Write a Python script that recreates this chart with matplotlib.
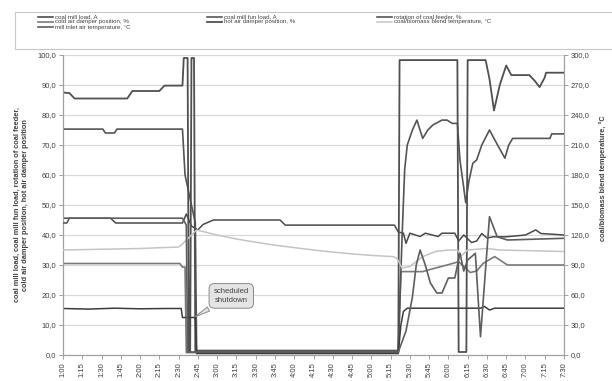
import matplotlib
matplotlib.use("Agg")
import matplotlib.pyplot as plt
from matplotlib.lines import Line2D
from matplotlib.patches import Rectangle

plt.rcParams['font.family'] = ['Liberation Sans', 'DejaVu Sans']

# ---------------- data ----------------
tick_labels = ["1:00", "1:15", "1:30", "1:45", "2:00", "2:15", "2:30", "2:45", "3:00",
               "3:15", "3:30", "3:45", "4:00", "4:15", "4:30", "4:45", "5:00", "5:15",
               "5:30", "5:45", "6:00", "6:15", "6:30", "6:45", "7:00", "7:15", "7:30"]

# hot air damper position, %
hot_t = ["1:00", "1:05", "1:09", "1:50", "1:54", "2:15", "2:19", "2:33", "2:34", "2:37", "2:38",
         "2:39", "2:40", "2:42", "2:43", "5:21", "5:22", "6:07", "6:08", "6:14", "6:15", "6:29",
         "6:32", "6:35.5", "6:40", "6:45", "6:49", "7:03", "7:07", "7:11", "7:15", "7:16", "7:30"]
hot_v = [87.5, 87.3, 85.5, 85.5, 88.0, 88.0, 89.8, 89.8, 99.0, 99.0, 1.0,
         1.0, 99.0, 99.0, 1.0, 1.0, 98.3, 98.3, 1.0, 1.0, 98.3, 98.3,
         92.0, 81.5, 90.0, 96.5, 93.3, 93.3, 91.5, 89.3, 92.5, 94.1, 94.1]

# rotation of coal feeder, %
rot_t = ["1:00", "1:31", "1:33", "1:40", "1:42", "2:33", "2:35", "2:43", "2:44", "5:21", "5:24",
         "5:26", "5:28", "5:32", "5:35.5", "5:40", "5:44", "5:48", "5:55", "5:59", "6:03", "6:07",
         "6:09", "6:13.5", "6:16", "6:19", "6:22", "6:26", "6:32", "6:37", "6:44", "6:47", "6:50",
         "7:19", "7:20.5", "7:30"]
rot_v = [75.3, 75.3, 74.0, 74.0, 75.3, 75.3, 60.0, 44.0, 1.5, 1.5, 40.0,
         62.0, 70.0, 75.0, 78.3, 72.2, 75.0, 76.7, 78.3, 78.3, 77.2, 77.2,
         65.0, 50.8, 58.0, 63.9, 65.0, 70.0, 75.0, 71.0, 65.6, 70.0, 72.2,
         72.2, 73.7, 73.7]

# coal mill fun load, A
fun_t = ["1:00", "1:37", "1:41", "2:33", "2:36", "2:40", "2:45", "2:49", "2:57", "3:49", "3:53",
         "5:18", "5:21", "5:25", "5:27", "5:30", "5:38", "5:42", "5:52", "5:55", "6:05", "6:08",
         "6:12", "6:18", "6:22", "6:26", "6:30", "6:35", "6:45", "7:00", "7:08", "7:12", "7:30"]
fun_v = [45.6, 45.6, 44.0, 44.0, 47.0, 43.0, 41.7, 43.5, 45.0, 45.0, 43.3,
         43.3, 41.0, 40.6, 37.2, 40.6, 39.5, 40.6, 39.5, 40.6, 40.6, 38.0,
         40.0, 37.5, 38.0, 40.5, 39.0, 39.4, 39.4, 40.0, 41.7, 40.5, 40.0]

# mill inlet air temperature, °C (right axis)
inlet_t = ["1:00", "1:03", "1:05", "2:33", "2:36", "2:37", "5:21", "5:27", "5:32", "5:35",
           "5:38", "5:42", "5:46", "5:51", "5:55", "6:00", "6:05", "6:09", "6:12", "6:15",
           "6:21", "6:25", "6:32", "6:38", "6:46", "7:30"]
inlet_v = [132.0, 132.0, 136.8, 136.8, 130.0, 3.0, 3.0, 24.0, 58.0, 90.0,
           105.0, 90.0, 72.0, 62.0, 62.0, 77.0, 77.0, 101.7, 84.0, 95.0,
           101.7, 18.3, 138.3, 118.2, 115.0, 116.7]

# cold air damper position, %
cold_t = ["1:00", "2:31", "2:33", "2:35", "2:36", "5:21", "5:23", "5:40", "5:50", "5:59",
          "6:08", "6:12", "6:17", "6:22", "6:27", "6:36", "6:46", "7:30"]
cold_v = [30.5, 30.5, 29.3, 29.3, 0.8, 0.8, 27.8, 27.8, 29.0, 30.0,
          31.1, 29.5, 27.5, 28.0, 30.5, 32.8, 30.0, 30.0]

# coal/biomass blend temperature, °C (right axis)
blend_t = ["1:00", "2:00", "2:30", "2:33", "2:40", "2:44", "3:00", "3:15", "3:30", "3:45",
           "4:00", "4:15", "4:30", "4:45", "5:00", "5:17", "5:20", "5:24", "5:30", "5:40",
           "5:50", "6:00", "6:07", "6:10", "6:15", "6:30", "6:40", "7:30"]
blend_v = [105.0, 106.5, 108.0, 111.0, 120.0, 125.0, 120.0, 116.0, 112.8, 109.8,
           107.4, 105.0, 102.9, 101.1, 99.6, 98.4, 96.6, 87.0, 88.5, 98.4,
           103.5, 105.0, 105.0, 99.0, 105.0, 106.5, 105.0, 103.5]

# coal mill load, A
load_t = ["1:00", "1:20", "1:40", "2:00", "2:20", "2:32", "2:33", "2:43", "2:44", "5:21",
          "5:23", "5:25", "5:28", "6:25", "6:28", "6:32", "6:36", "7:30"]
load_v = [15.5, 15.3, 15.6, 15.4, 15.5, 15.5, 12.5, 12.5, 0.5, 0.5,
          10.0, 14.5, 15.6, 15.6, 16.2, 15.0, 15.6, 15.6]

legend_labels = [
    ["coal mill load, A", "cold air damper position, %", "mill inlet air temperature, °C"],
    ["coal mill fun load, A", "hot air damper position, %"],
    ["rotation of coal feeder, %", "coal/biomass blend temperature, °C"],
]
legend_keys = [["load", "cold", "inlet"], ["fun", "hot"], ["rot", "blend"]]

annot_text = "scheduled\nshutdown"
ylabel_left = "coal mill load, coal mill fun load, rotation of coal feeder,\ncold air damper position, hot air damper position"
ylabel_right = "coal/biomass blend temperature, °C"


def tm(s):
    h, m = s.split(":")
    return int(h) * 60 + float(m)


def fmt(v):
    return f"{v:.1f}".replace(".", ",")


W, H = 612, 381

# ---------------- figure ----------------
fig = plt.figure(figsize=(W / 100, H / 100), dpi=100)
ax = fig.add_axes([63 / W, 1 - 355 / H, 501 / W, 300 / H])
ax2 = ax.twinx()

styles = {
    "load": dict(color="#3c3c3c", lw=1.1),
    "fun": dict(color="#4a4a4a", lw=1.1),
    "rot": dict(color="#555555", lw=1.2),
    "cold": dict(color="#7a7a7a", lw=1.2),
    "hot": dict(color="#505050", lw=1.3),
    "blend": dict(color="#c4c4c4", lw=1.1),
    "inlet": dict(color="#5e5e5e", lw=1.2),
}

ax.plot([tm(t) for t in cold_t], cold_v, **styles["cold"], zorder=3)
ax.plot([tm(t) for t in fun_t], fun_v, **styles["fun"], zorder=3)
ax.plot([tm(t) for t in rot_t], rot_v, **styles["rot"], zorder=3)
ax.plot([tm(t) for t in hot_t], hot_v, **styles["hot"], zorder=3)
ax.plot([tm(t) for t in load_t], load_v, **styles["load"], zorder=3)
ax2.plot([tm(t) for t in blend_t], blend_v, **styles["blend"], zorder=3)
ax2.plot([tm(t) for t in inlet_t], inlet_v, **styles["inlet"], zorder=3)

xmin, xmax = tm("1:00"), tm("7:30")
ax.set_xlim(xmin, xmax)
ax.set_ylim(0, 100)
ax2.set_ylim(0, 300)

ax.set_yticks(range(0, 101, 10))
ax.set_yticklabels([fmt(v) for v in range(0, 101, 10)])
ax2.set_yticks(range(0, 301, 30))
ax2.set_yticklabels([fmt(v) for v in range(0, 301, 30)])
ax.set_xticks([tm(t) for t in tick_labels])
ax.set_xticklabels(tick_labels, rotation=90)

ax.grid(axis="y", color="#d8d8d8", lw=0.9)
ax.set_axisbelow(True)
for a in (ax, ax2):
    a.spines["top"].set_visible(False)
    for s in ("left", "right", "bottom"):
        a.spines[s].set_color("#a0a0a0")
        a.spines[s].set_linewidth(0.8)
ax.tick_params(axis="both", labelsize=5.5, colors="#a0a0a0", labelcolor="#404040",
               length=3, width=0.7, pad=2)
ax2.tick_params(axis="y", labelsize=5.5, colors="#a0a0a0", labelcolor="#404040",
                length=3, width=0.7, pad=2)

ax.set_ylabel(ylabel_left, fontsize=5.3, color="#404040", fontweight="bold", labelpad=6)
fig.text(603 / W, 1 - 178 / H, ylabel_right, rotation=90, fontsize=5.3, color="#404040",
         fontweight="bold", ha="center", va="center")

ax.annotate(annot_text, xy=(tm("2:41"), 12.3), xytext=(tm("3:11"), 19.7),
            ha="center", va="center", fontsize=5.5, color="#404040", linespacing=1.3,
            bbox=dict(boxstyle="round,pad=0.6,rounding_size=0.7", fc="#e4e4e4", ec="#8a8a8a", lw=0.7),
            arrowprops=dict(arrowstyle="wedge,tail_width=0.6", fc="#e4e4e4", ec="#8a8a8a", lw=0.7),
            zorder=6)

# legend (frame + three columns)
fig.add_artist(Rectangle((15 / W, 1 - 49 / H), 620 / W, 37 / H, transform=fig.transFigure,
                         fc="white", ec="#c8c8c8", lw=0.8, clip_on=False))
col_x = [38, 207, 377]
row_y = [17, 22, 27]
for ci, (labs, keys) in enumerate(zip(legend_labels, legend_keys)):
    for ri, (lab, key) in enumerate(zip(labs, keys)):
        x0 = col_x[ci]
        y0 = row_y[ri]
        st = styles[key]
        fig.add_artist(Line2D([x0 / W, (x0 + 15) / W], [1 - y0 / H, 1 - y0 / H],
                              transform=fig.transFigure, color=st["color"], lw=st["lw"]))
        fig.text((x0 + 17) / W, 1 - y0 / H, lab, fontsize=4.4, color="#404040",
                 ha="left", va="center")

fig.savefig("out.png", dpi=100)
